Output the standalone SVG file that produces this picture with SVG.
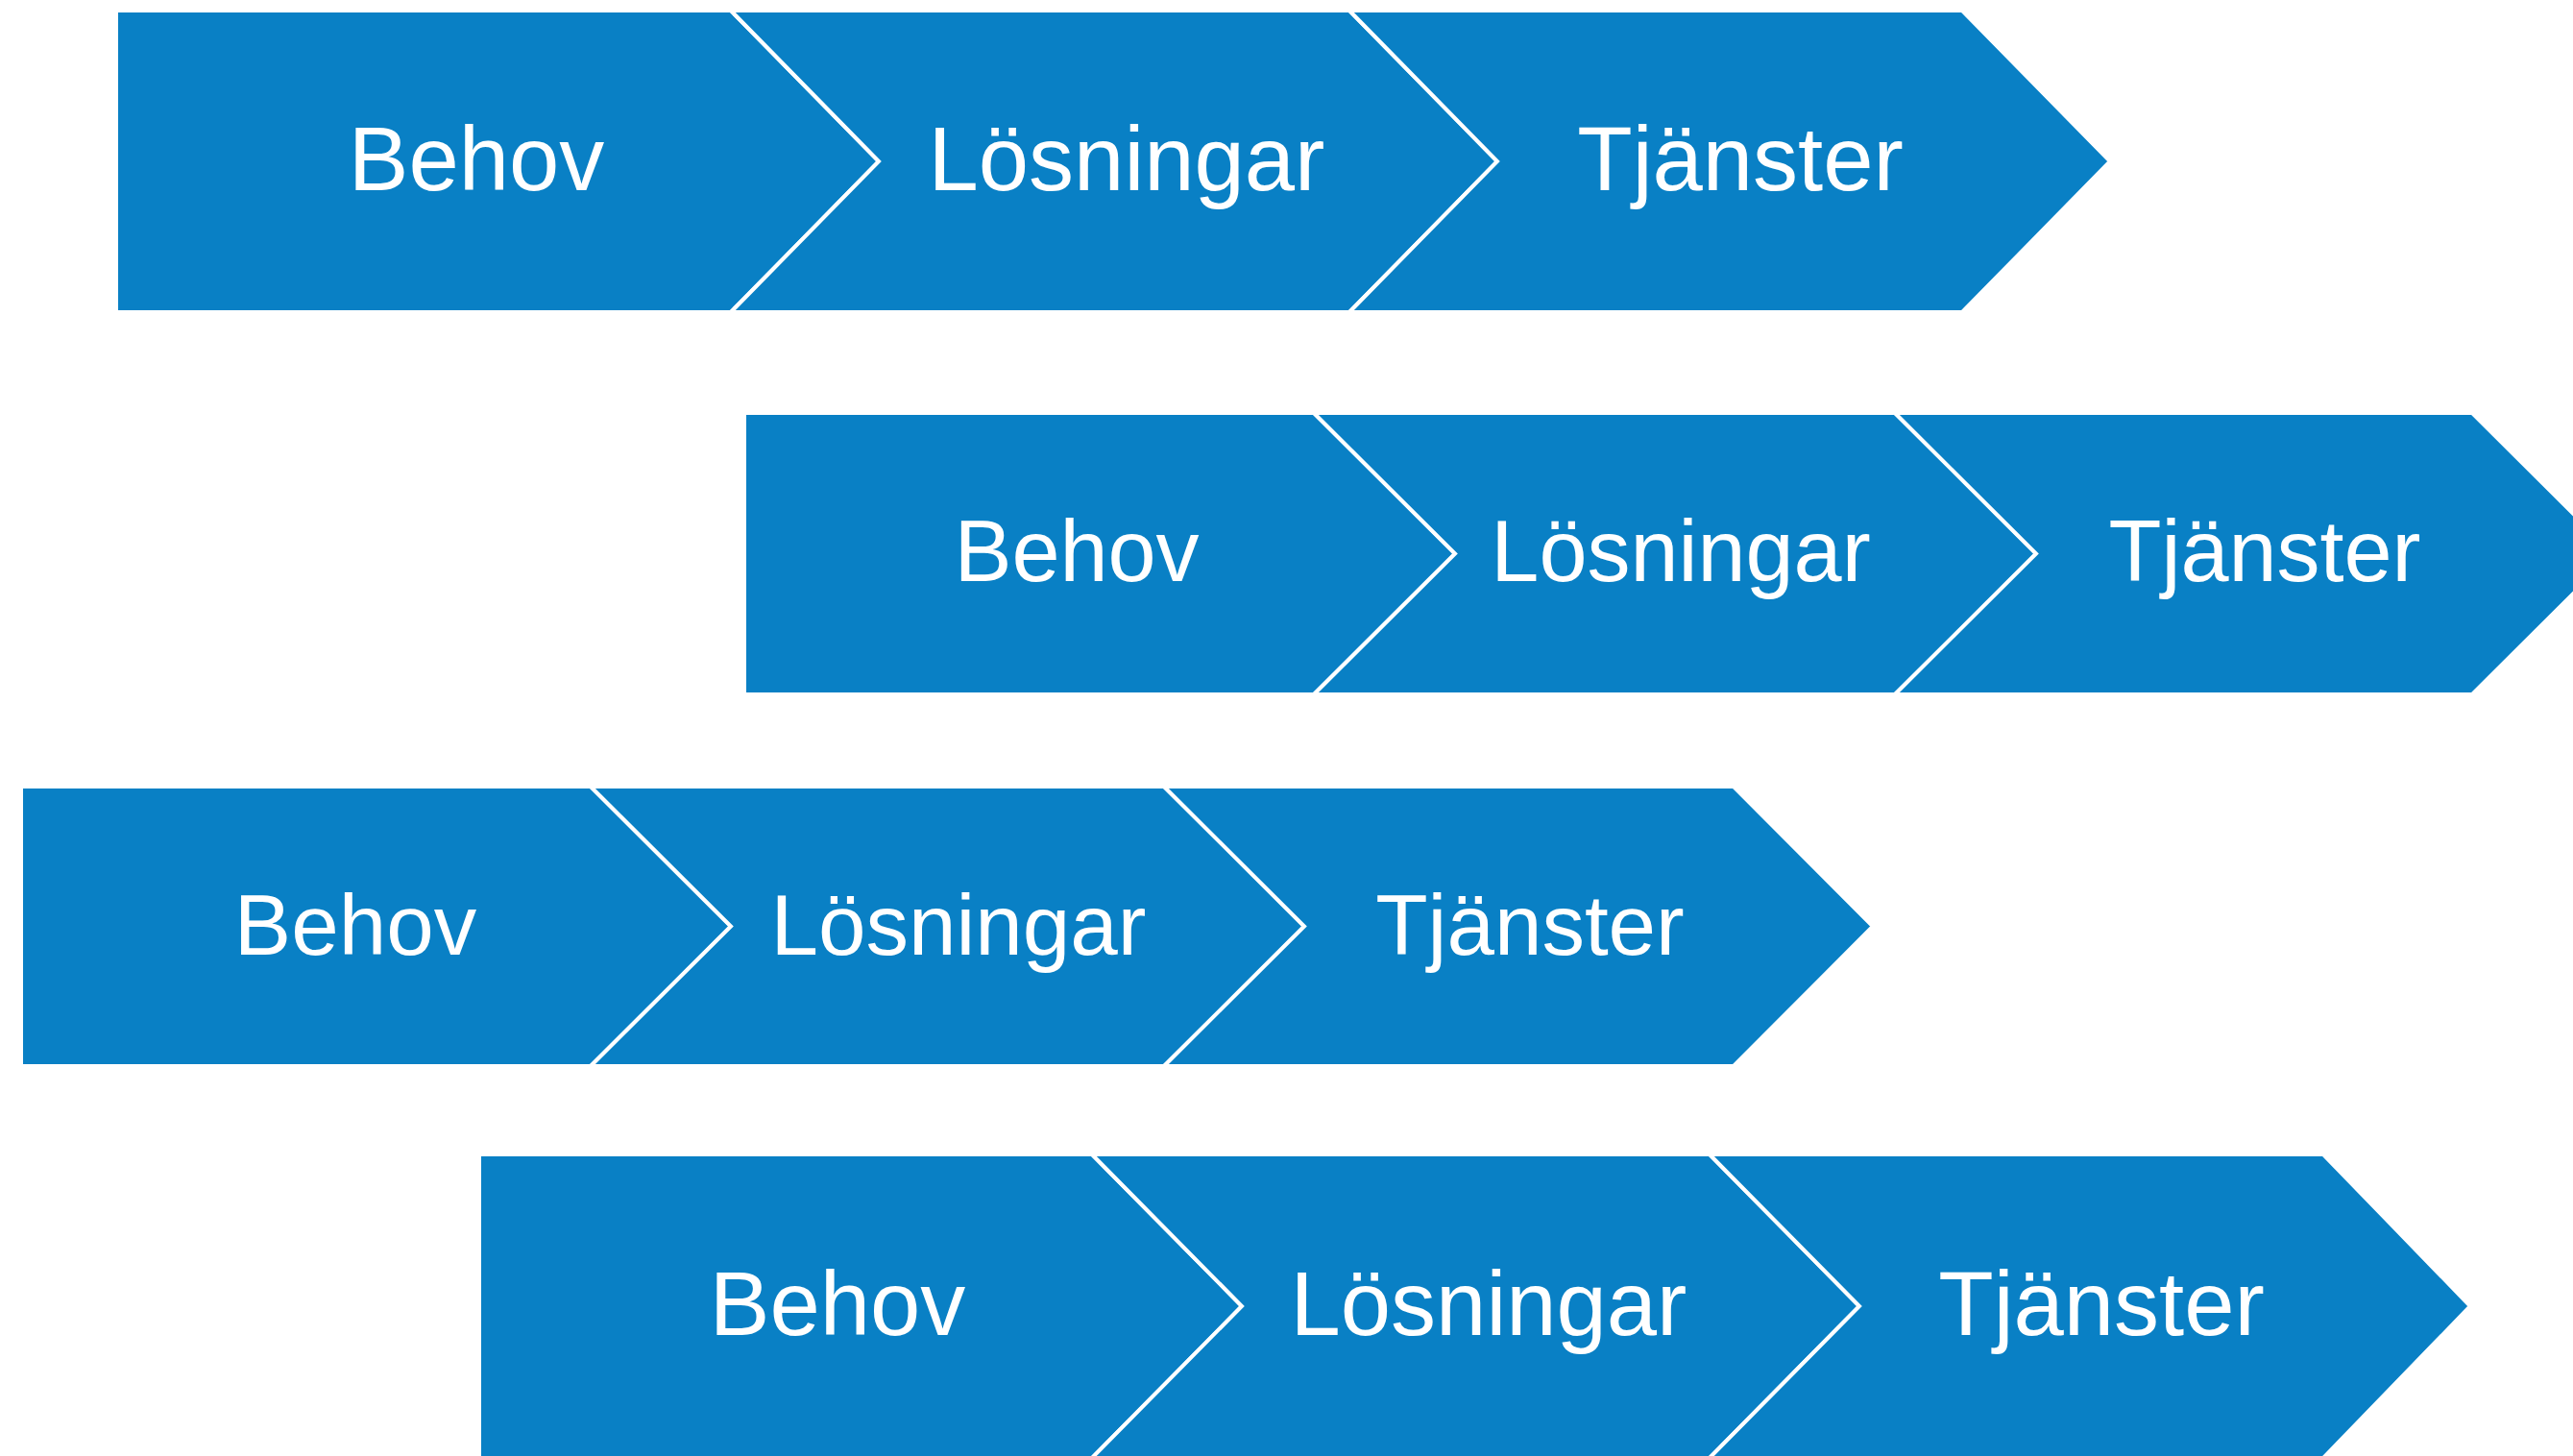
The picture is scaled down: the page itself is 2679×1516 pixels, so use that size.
<svg xmlns="http://www.w3.org/2000/svg" width="2679" height="1516" viewBox="0 0 2679 1516">
  <style>
    .chev { fill: #0980c5; stroke: #ffffff; stroke-width: 4; stroke-linejoin: miter; }
    .lbl { fill: #ffffff; font-family: "Liberation Sans", Arial, Helvetica, sans-serif; text-anchor: middle; }
  </style>
  <rect width="2679" height="1516" fill="#ffffff"/>

  <!-- Row 1 -->
  <g id="row1">
    <g id="r1-behov">
      <polygon class="chev" points="121,11 761,11 915,168 761,325 121,325"/>
      <text class="lbl" x="496" y="198" font-size="94">Behov</text>
    </g>
    <g id="r1-losningar">
      <polygon class="chev" points="761,11 1405,11 1559,168 1405,325 761,325 915,168"/>
      <text class="lbl" x="1173" y="198" font-size="94">Lösningar</text>
    </g>
    <g id="r1-tjanster">
      <polygon class="chev" points="1405,11 2043,11 2197,168 2043,325 1405,325 1559,168"/>
      <text class="lbl" x="1812" y="198" font-size="94">Tjänster</text>
    </g>
  </g>

  <!-- Row 2 -->
  <g id="row2">
    <g id="r2-behov">
      <polygon class="chev" points="775,430 1368,430 1515,576.5 1368,723 775,723"/>
      <text class="lbl" x="1121" y="605" font-size="90">Behov</text>
    </g>
    <g id="r2-losningar">
      <polygon class="chev" points="1368,430 1973,430 2120,576.5 1973,723 1368,723 1515,576.5"/>
      <text class="lbl" x="1750" y="605" font-size="90">Lösningar</text>
    </g>
    <g id="r2-tjanster">
      <polygon class="chev" points="1973,430 2574,430 2721,576.5 2574,723 1973,723 2120,576.5"/>
      <text class="lbl" x="2358" y="605" font-size="90">Tjänster</text>
    </g>
  </g>

  <!-- Row 3 -->
  <g id="row3">
    <g id="r3-behov">
      <polygon class="chev" points="22,819 615,819 761,964.5 615,1110 22,1110"/>
      <text class="lbl" x="370" y="994" font-size="89">Behov</text>
    </g>
    <g id="r3-losningar">
      <polygon class="chev" points="615,819 1212,819 1358,964.5 1212,1110 615,1110 761,964.5"/>
      <text class="lbl" x="998" y="994" font-size="89">Lösningar</text>
    </g>
    <g id="r3-tjanster">
      <polygon class="chev" points="1212,819 1805,819 1950,964.5 1805,1110 1212,1110 1358,964.5"/>
      <text class="lbl" x="1593" y="994" font-size="89">Tjänster</text>
    </g>
  </g>

  <!-- Row 4 -->
  <g id="row4">
    <g id="r4-behov">
      <polygon class="chev" points="499,1202 1137,1202 1293,1360 1137,1518 499,1518"/>
      <text class="lbl" x="872" y="1390" font-size="94">Behov</text>
    </g>
    <g id="r4-losningar">
      <polygon class="chev" points="1137,1202 1780,1202 1936,1360 1780,1518 1137,1518 1293,1360"/>
      <text class="lbl" x="1550" y="1390" font-size="94">Lösningar</text>
    </g>
    <g id="r4-tjanster">
      <polygon class="chev" points="1780,1202 2419,1202 2572,1360 2419,1518 1780,1518 1936,1360"/>
      <text class="lbl" x="2188" y="1390" font-size="94">Tjänster</text>
    </g>
  </g>

  <g id="connectors"/>
</svg>
